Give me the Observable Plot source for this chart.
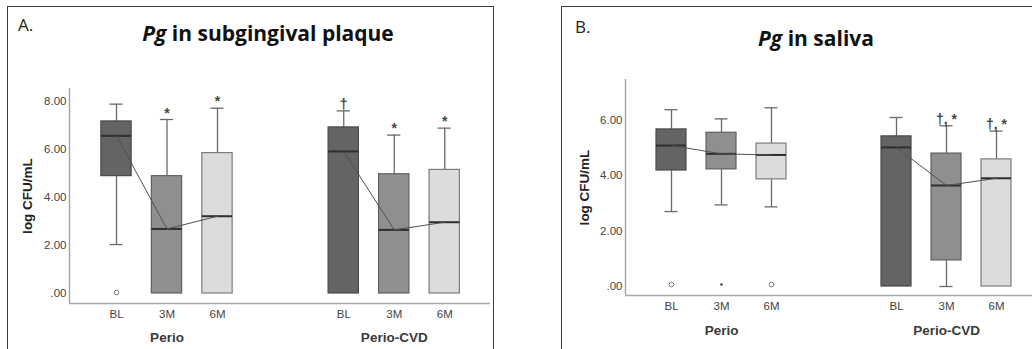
<!DOCTYPE html>
<html><head><meta charset="utf-8">
<script src="https://cdn.jsdelivr.net/npm/d3@7"></script>
<script src="https://cdn.jsdelivr.net/npm/@observablehq/plot@0.6"></script>
<style>
html,body{margin:0;padding:0;background:#fff}
body{width:1032px;height:349px;overflow:hidden;position:relative;font-family:"Liberation Sans",Arial,sans-serif}
.plot{position:absolute;top:0}
.panel{position:absolute;border:1.5px solid #3c3c3c;box-sizing:border-box;pointer-events:none}
.title{position:absolute;font-family:"Open Sans",sans-serif;font-weight:700;font-size:21px;color:#111;transform:translateX(-50%);white-space:nowrap;line-height:1}
.tag{position:absolute;font-family:"Open Sans",sans-serif;font-size:17px;color:#222;line-height:1}
</style></head><body>
<div id="A" class="plot" style="left:0"></div>
<div id="B" class="plot" style="left:516px"></div>
<div class="panel" style="left:7px;top:6px;width:487px;height:360px"></div>
<div class="panel" style="left:561px;top:6px;width:490px;height:360px"></div>
<div class="tag" style="left:18px;top:16px">A.</div>
<div class="tag" style="left:575px;top:18px">B.</div>
<div class="title" style="left:268px;top:23px"><i>Pg</i> in subgingival plaque</div>
<div class="title" style="left:816px;top:28px"><i>Pg</i> in saliva</div>
<script>
// categories
const groups = ["Perio", "Perio-CVD"];
const times = ["BL", "3M", "6M"];
const yLabel = "log CFU/mL";

// Panel A: Pg in subgingival plaque (order: Perio BL,3M,6M, Perio-CVD BL,3M,6M)
const plaqueLow    = [2.04, 0, 0, 0, 0, 0];
const plaqueQ1     = [4.89, 0, 0, 0, 0, 0];
const plaqueMedian = [6.57, 2.69, 3.22, 5.92, 2.65, 2.97];
const plaqueQ3     = [7.17, 4.89, 5.85, 6.92, 4.97, 5.15];
const plaqueHigh   = [7.89, 7.25, 7.72, 7.61, 6.60, 6.89];
const plaqueSig    = ["", "*", "*", "\u2020", "*", "*"];
const plaqueOutIdx = [0];
const plaqueOutVal = [0.04];
const plaqueOutKind = ["circle"];
const plaqueTicks = [0, 2, 4, 6, 8];

// Panel B: Pg in saliva
const salivaLow    = [2.70, 2.94, 2.87, 0, 0, 0];
const salivaQ1     = [4.18, 4.22, 3.86, 0, 0.94, 0];
const salivaMedian = [5.08, 4.78, 4.74, 5.01, 3.64, 3.90];
const salivaQ3     = [5.66, 5.54, 5.15, 5.41, 4.79, 4.58];
const salivaHigh   = [6.37, 6.04, 6.44, 6.09, 5.79, 5.60];
const salivaSig    = ["", "", "", "", "\u2020, *", "\u2020, *"];
const salivaOutIdx = [0, 1, 2];
const salivaOutVal = [0.07, 0.07, 0.07];
const salivaOutKind = ["circle", "dot", "circle"];
const salivaTicks = [0, 2, 4, 6];

const GAP = 4.5; // group spacing in slot units (layout)
const posOf = i => Math.floor(i / 3) * GAP + (i % 3);

function build(low, q1, med, q3, high, sig) {
  return d3.range(6).map(i => ({
    group: groups[Math.floor(i / 3)], time: times[i % 3], pos: posOf(i),
    low: low[i], q1: q1[i], med: med[i], q3: q3[i], high: high[i], sig: sig[i]
  }));
}
function outs(idx, val, kind) {
  return idx.map((i, k) => ({pos: posOf(i), v: val[k], kind: kind[k]}));
}
const fmt = d => d3.format(".2f")(d).replace(/^0\./, ".");
const FILL = {BL: "#646464", "3M": "#8f8f8f", "6M": "#dcdcdc"};
const STROKE = {BL: "#4a4a4a", "3M": "#606060", "6M": "#7c7c7c"};

function panel(data, outliers, cfg) {
  const hw = 0.3, cw = 0.13;
  const withLow = data.filter(d => d.low < d.q1);
  return Plot.plot({
    width: 516, height: 349,
    marginLeft: cfg.ml, marginRight: cfg.mr, marginTop: cfg.mt, marginBottom: cfg.mb,
    x: {domain: cfg.xd, axis: null},
    y: {domain: cfg.yd, axis: null},
    style: {fontFamily: "Liberation Sans, Arial, sans-serif", background: "transparent", overflow: "visible"},
    marks: [
      Plot.ruleY([cfg.yd[0]], {stroke: "#a8a8a8", strokeWidth: 1.5}),
      Plot.ruleX([cfg.xd[0]], {stroke: "#a8a8a8", strokeWidth: 1.5}),
      Plot.axisY({ticks: cfg.ticks, tickFormat: fmt, tickSize: 0, tickPadding: 3, fontSize: 11.5, fill: "#444", label: null}),
      Plot.ruleX(data, {x: "pos", y1: "q3", y2: "high", stroke: "#6a6a6a", strokeWidth: 1.3}),
      Plot.ruleX(withLow, {x: "pos", y1: "low", y2: "q1", stroke: "#6a6a6a", strokeWidth: 1.3}),
      Plot.ruleY(data, {y: "high", x1: d => d.pos - cw, x2: d => d.pos + cw, stroke: "#6a6a6a", strokeWidth: 1.3}),
      Plot.ruleY(withLow, {y: "low", x1: d => d.pos - cw, x2: d => d.pos + cw, stroke: "#6a6a6a", strokeWidth: 1.3}),
      Plot.rect(data, {x1: d => d.pos - hw, x2: d => d.pos + hw, y1: "q1", y2: "q3",
        fill: d => FILL[d.time], stroke: d => STROKE[d.time], strokeWidth: 1.2}),
      Plot.ruleY(data, {y: "med", x1: d => d.pos - hw, x2: d => d.pos + hw, stroke: "#2e2e2e", strokeWidth: 2}),
      Plot.line(data, {x: "pos", y: "med", z: "group", stroke: "#505050", strokeWidth: 1}),
      Plot.dot(outliers.filter(d => d.kind === "circle"), {x: "pos", y: "v", r: 2.3, stroke: "#777", fill: "#fff", strokeWidth: 1}),
      Plot.dot(outliers.filter(d => d.kind === "dot"), {x: "pos", y: "v", r: 1.3, fill: "#444"}),
      Plot.text(data, {x: "pos", y: "high", text: "sig", lineAnchor: "bottom", dy: cfg.sdy, fontSize: 14, fontWeight: "bold", fill: "#444"}),
      Plot.text(data, {x: "pos", text: "time", frameAnchor: "bottom", lineAnchor: "middle", textAnchor: "middle", dy: cfg.tdy, fontSize: 11.5, fill: "#444"}),
      Plot.text(groups, {x: (d, i) => i * GAP + 1, text: d => d, frameAnchor: "bottom", lineAnchor: "middle", textAnchor: "middle", dy: cfg.gdy, fontSize: 13.5, fontWeight: "bold", fill: "#3a3a3a"}),
      Plot.text([yLabel], {frameAnchor: "left", textAnchor: "middle", lineAnchor: "middle", rotate: -90, dx: cfg.ldx, fontSize: 13.5, fontWeight: "bold", fill: "#222"})
    ]
  });
}

document.getElementById("A").append(panel(
  build(plaqueLow, plaqueQ1, plaqueMedian, plaqueQ3, plaqueHigh, plaqueSig),
  outs(plaqueOutIdx, plaqueOutVal, plaqueOutKind),
  {ml: 69, mr: 26, mt: 88, mb: 46, xd: [-0.9307, 7.406], yd: [-0.417, 8.542], ticks: plaqueTicks,
   sdy: -2, tdy: 11, gdy: 34, ldx: -42}
));
document.getElementById("B").append(panel(
  build(salivaLow, salivaQ1, salivaMedian, salivaQ3, salivaHigh, salivaSig),
  outs(salivaOutIdx, salivaOutVal, salivaOutKind),
  {ml: 109, mr: 0, mt: 79, mb: 54, xd: [-0.92, 7.22], yd: [-0.324, 7.459], ticks: salivaTicks,
   sdy: -2, tdy: 11, gdy: 35, ldx: -41}
));
</script>
</body></html>
